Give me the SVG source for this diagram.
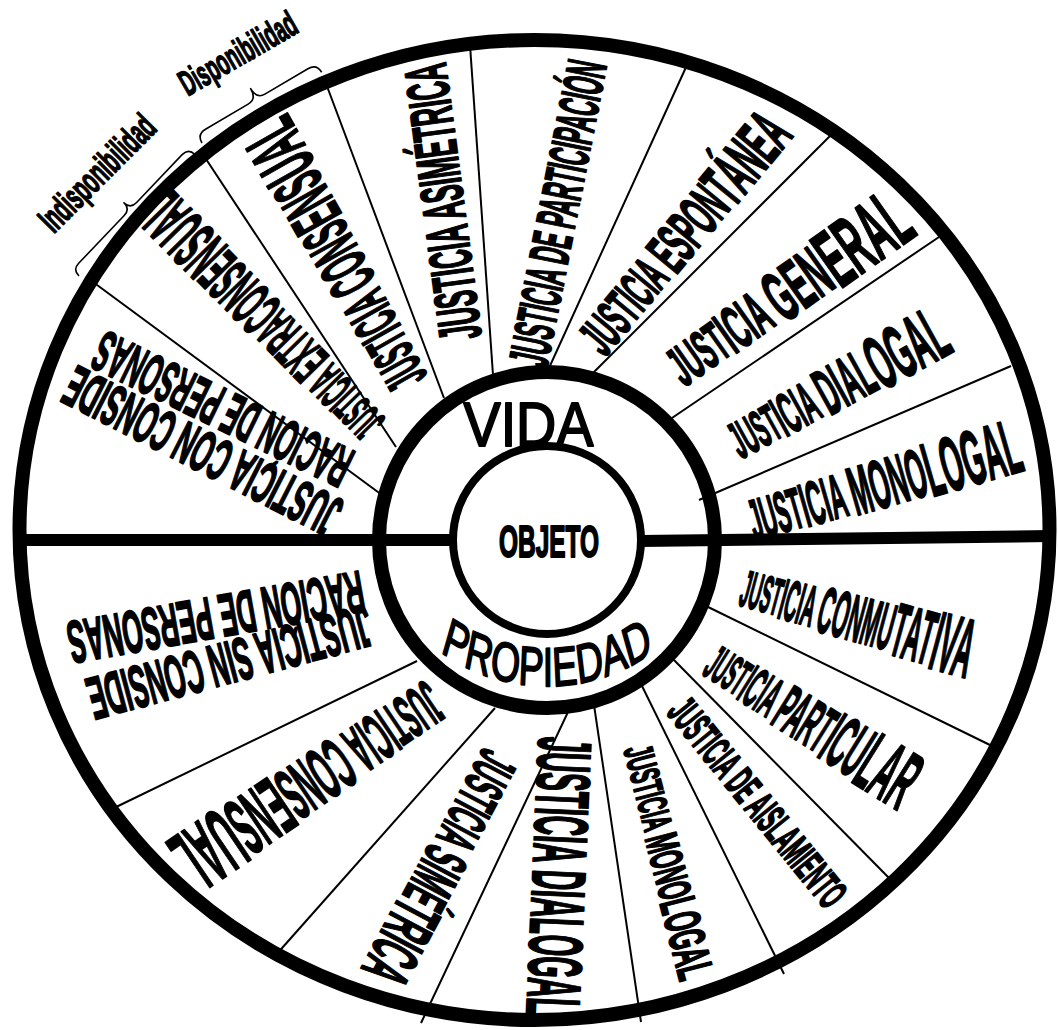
<svg xmlns="http://www.w3.org/2000/svg" width="1058" height="1030" viewBox="0 0 1058 1030">
<style>
.div{stroke:#000;stroke-width:2;fill:none}
.thick{stroke:#000;stroke-width:12;fill:none}
.ring{stroke:#000;stroke-width:14;fill:none}
.brace{stroke:#000;stroke-width:1.6;fill:none;stroke-linejoin:round}
.lb{font-family:"Liberation Sans",Arial,sans-serif;font-weight:bold;fill:#000;stroke:#000;stroke-width:2;stroke-linejoin:round}
.rg{font-family:"Liberation Sans",Arial,sans-serif;fill:#000;stroke:#000;stroke-width:2;stroke-linejoin:round}
</style>
<defs>
<path id="arcProp" d="M -160 650 A 267.6 182 0 0 0 160 650"/>
</defs>
<rect width="1058" height="1030" fill="#fff"/>
<g id="connectors">
<line class="div" x1="382" y1="495" x2="93" y2="282"/>
<line class="div" x1="396" y1="447" x2="204" y2="156"/>
<line class="div" x1="444" y1="398" x2="325" y2="81"/>
<line class="div" x1="493" y1="375" x2="470" y2="45"/>
<line class="div" x1="549" y1="368" x2="687" y2="65"/>
<line class="div" x1="593" y1="373" x2="830" y2="136"/>
<line class="div" x1="669" y1="420" x2="939" y2="237"/>
<line class="div" x1="699" y1="500" x2="1011" y2="366"/>
<line class="div" x1="417" y1="661" x2="112" y2="809"/>
<line class="div" x1="495" y1="708" x2="275" y2="956"/>
<line class="div" x1="568" y1="712" x2="421" y2="1023"/>
<line class="div" x1="594" y1="705" x2="641" y2="1022"/>
<line class="div" x1="641" y1="684" x2="784" y2="974"/>
<line class="div" x1="672" y1="658" x2="890" y2="879"/>
<line class="div" x1="704" y1="605" x2="990" y2="745"/>
<line class="thick" x1="19" y1="540" x2="455" y2="540"/>
<line class="thick" x1="640" y1="541" x2="1050" y2="536"/>
</g>
<g id="outer-wheel"><ellipse class="ring" cx="534.5" cy="530" rx="515" ry="490"/></g>
<g id="ring"><circle class="ring" cx="547" cy="540" r="168"/></g>
<g id="objeto">
<circle cx="547" cy="540" r="94" fill="#fff" stroke="#000" stroke-width="8"/>
<text class="lb" x="549" y="541" dy="0.36em" font-size="45" text-anchor="middle" textLength="100" lengthAdjust="spacingAndGlyphs">OBJETO</text>
</g>
<g id="vida"><text class="rg" x="528.5" y="446" font-size="63" text-anchor="middle" textLength="130" lengthAdjust="spacingAndGlyphs">VIDA</text></g>
<g id="propiedad" transform="translate(547,0) scale(0.68,1)"><text class="rg" font-size="55"><textPath href="#arcProp" startOffset="50%" text-anchor="middle">PROPIEDAD</textPath></text></g>

<g id="n-con-consideracion">
<text class="lb" transform="translate(202,452) rotate(207)" dy="0.36em" font-size="58" text-anchor="middle" textLength="302" lengthAdjust="spacingAndGlyphs">JUSTICIA CON CONSIDE</text>
<text class="lb" transform="translate(222,410) rotate(206)" dy="0.36em" font-size="58" text-anchor="middle" textLength="280" lengthAdjust="spacingAndGlyphs">RACIÓN DE PERSONAS</text>
</g>
<g id="n-extraconsensual"><text class="lb" transform="translate(263,318) rotate(225.6)" text-anchor="middle" textLength="318" lengthAdjust="spacingAndGlyphs"><tspan font-size="48" dy="17.3">JUST</tspan><tspan font-size="52" dy="1.4">ICIA </tspan><tspan font-size="58" dy="2.2">EXTRA</tspan><tspan font-size="64" dy="2.2">CONSE</tspan><tspan font-size="70" dy="2.2">NSUAL</tspan></text></g>
<g id="n-consensual-up"><text class="lb" transform="translate(336,256) rotate(240.5)" text-anchor="middle" textLength="300" lengthAdjust="spacingAndGlyphs"><tspan font-size="58" dy="20.9">JUST</tspan><tspan font-size="62" dy="1.4">ICIA </tspan><tspan font-size="67" dy="1.8">CONS</tspan><tspan font-size="72" dy="1.8">ENS</tspan><tspan font-size="78" dy="2.2">UAL</tspan></text></g>
<g id="n-asimetrica"><text class="lb" transform="translate(442,202) rotate(-97.5)" dy="0.36em" font-size="60" text-anchor="middle" textLength="278" lengthAdjust="spacingAndGlyphs">JUSTICIA ASIMÉTRICA</text></g>
<g id="n-participacion"><text class="lb" transform="translate(557,213) rotate(-78.8)" dy="0.36em" font-size="56" text-anchor="middle" textLength="310" lengthAdjust="spacingAndGlyphs">JUSTICIA DE PARTICIPACIÓN</text></g>
<g id="n-espontanea"><text class="lb" transform="translate(683,233) rotate(-50.5)" text-anchor="middle" textLength="292" lengthAdjust="spacingAndGlyphs"><tspan font-size="54" dy="19.4">JUSTICIA </tspan><tspan font-size="60" dy="2.2">ESPON</tspan><tspan font-size="66" dy="2.2">TÁNEA</tspan></text></g>
<g id="n-general"><text class="lb" transform="translate(787,290) rotate(-35.3)" text-anchor="middle" textLength="280" lengthAdjust="spacingAndGlyphs"><tspan font-size="56" dy="20.2">JUST</tspan><tspan font-size="62" dy="2.2">ICIA </tspan><tspan font-size="72" dy="3.6">GEN</tspan><tspan font-size="84" dy="4.3">ERAL</tspan></text></g>
<g id="n-dialogal-up"><text class="lb" transform="translate(837,385) rotate(-29)" text-anchor="middle" textLength="240" lengthAdjust="spacingAndGlyphs"><tspan font-size="52" dy="18.7">JUST</tspan><tspan font-size="58" dy="2.2">ICIA </tspan><tspan font-size="66" dy="2.9">DIAL</tspan><tspan font-size="76" dy="3.6">OGAL</tspan></text></g>
<g id="n-monologal-up"><text class="lb" transform="translate(884,482) rotate(-16)" text-anchor="middle" textLength="280" lengthAdjust="spacingAndGlyphs"><tspan font-size="58" dy="20.9">JUST</tspan><tspan font-size="62" dy="1.4">ICIA </tspan><tspan font-size="69" dy="2.5">MONO</tspan><tspan font-size="77" dy="2.9">LOGAL</tspan></text></g>
<g id="n-conmutativa"><text class="lb" transform="translate(858,618) rotate(15)" text-anchor="middle" textLength="240" lengthAdjust="spacingAndGlyphs"><tspan font-size="52" dy="18.7">JUST</tspan><tspan font-size="58" dy="2.2">ICIA </tspan><tspan font-size="66" dy="2.9">CONMU</tspan><tspan font-size="76" dy="3.6">TAT</tspan><tspan font-size="84" dy="2.9">IVA</tspan></text></g>
<g id="n-particular"><text class="lb" transform="translate(812,722) rotate(32)" text-anchor="middle" textLength="240" lengthAdjust="spacingAndGlyphs"><tspan font-size="50" dy="18">JUST</tspan><tspan font-size="57" dy="2.5">ICIA </tspan><tspan font-size="66" dy="3.2">PART</tspan><tspan font-size="75" dy="3.2">ICU</tspan><tspan font-size="84" dy="3.2">LAR</tspan></text></g>
<g id="n-aislamiento"><text class="lb" transform="translate(758,802) rotate(51)" dy="0.36em" font-size="43" text-anchor="middle" textLength="255" lengthAdjust="spacingAndGlyphs">JUSTICIA DE AISLAMIENTO</text></g>
<g id="n-monologal-down"><text class="lb" transform="translate(668,862) rotate(75.5)" text-anchor="middle" textLength="240" lengthAdjust="spacingAndGlyphs"><tspan font-size="41" dy="14.8">JUSTICIA </tspan><tspan font-size="46" dy="1.8">MONO</tspan><tspan font-size="51" dy="1.8">LOGAL</tspan></text></g>
<g id="n-dialogal-down"><text class="lb" transform="translate(560,876) rotate(92.5)" dy="0.36em" font-size="76" text-anchor="middle" textLength="278" lengthAdjust="spacingAndGlyphs">JUSTICIA DIALOGAL</text></g>
<g id="n-simetrica"><text class="lb" transform="translate(442,868) rotate(118)" text-anchor="middle" textLength="255" lengthAdjust="spacingAndGlyphs"><tspan font-size="56" dy="20.2">JUSTICIA </tspan><tspan font-size="62" dy="2.2">SIMÉ</tspan><tspan font-size="68" dy="2.2">TRICA</tspan></text></g>
<g id="n-consensual-down"><text class="lb" transform="translate(310,784) rotate(146)" text-anchor="middle" textLength="308" lengthAdjust="spacingAndGlyphs"><tspan font-size="62" dy="22.3">JUST</tspan><tspan font-size="67" dy="1.8">ICIA </tspan><tspan font-size="74" dy="2.5">CONS</tspan><tspan font-size="82" dy="2.9">ENS</tspan><tspan font-size="90" dy="2.9">UAL</tspan></text></g>
<g id="n-sin-consideracion">
<text class="lb" transform="translate(230,663) rotate(165)" dy="0.36em" font-size="60" text-anchor="middle" textLength="292" lengthAdjust="spacingAndGlyphs">JUSTICIA SIN CONSIDE</text>
<text class="lb" transform="translate(216,618) rotate(170)" dy="0.36em" font-size="60" text-anchor="middle" textLength="300" lengthAdjust="spacingAndGlyphs">RACIÓN DE PERSONAS</text>
</g>

<g id="brace-indisponibilidad">
<path class="brace" transform="translate(79,276) rotate(-46.4)" d="M0,0 Q0,-9 9,-9 L75,-9 Q84,-9 84,-18 Q84,-9 93,-9 L159,-9 Q168,-9 168,0"/>
<text class="lb" transform="translate(106,182) rotate(-45)" font-size="37" style="stroke-width:1.5" text-anchor="middle" textLength="148" lengthAdjust="spacingAndGlyphs">Indisponibilidad</text>
</g>
<g id="brace-disponibilidad">
<path class="brace" transform="translate(202,143) rotate(-30.6)" d="M0,0 Q0,-10 10,-10 L60,-10 Q69.5,-10 69.5,-22 Q69.5,-10 79,-10 L129,-10 Q139,-10 139,0"/>
<text class="lb" transform="translate(244,64) rotate(-30)" font-size="36" style="stroke-width:1.5" text-anchor="middle" textLength="130" lengthAdjust="spacingAndGlyphs">Disponibilidad</text>
</g>
</svg>
